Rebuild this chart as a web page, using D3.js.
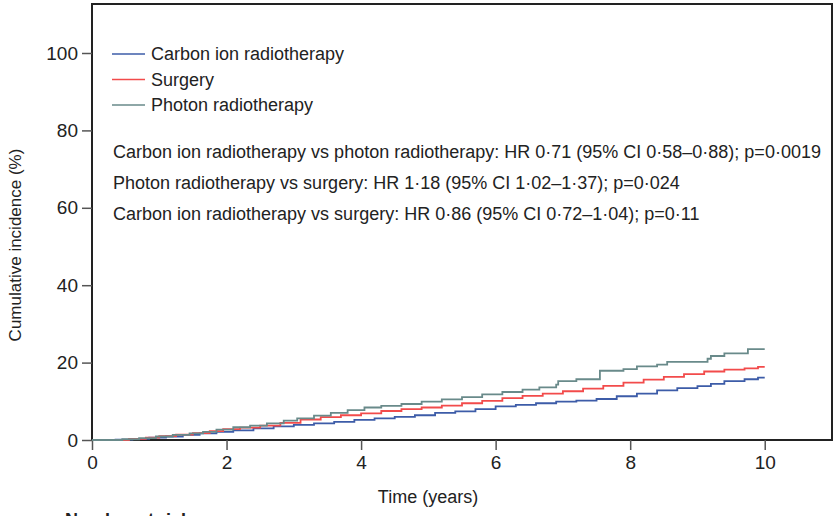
<!DOCTYPE html>
<html><head><meta charset="utf-8">
<script src="https://cdn.jsdelivr.net/npm/d3@7"></script>
<style>body{margin:0;background:#fff}svg{display:block}</style>
</head><body><svg id="c" width="834" height="516"></svg>
<script>
const seriesNames = ["Carbon ion radiotherapy", "Surgery", "Photon radiotherapy"];
const seriesColors = ["#3d5ca8", "#f24b4b", "#698a8a"];
const xTicks = [0, 2, 4, 6, 8, 10];
const yTicks = [0, 20, 40, 60, 80, 100];
const statLines = [
  "Carbon ion radiotherapy vs photon radiotherapy: HR 0·71 (95% CI 0·58–0·88); p=0·0019",
  "Photon radiotherapy vs surgery: HR 1·18 (95% CI 1·02–1·37); p=0·024",
  "Carbon ion radiotherapy vs surgery: HR 0·86 (95% CI 0·72–1·04); p=0·11"
];
const carbonT = [0,0.35,0.6,0.85,1.1,1.35,1.6,1.85,2.1,2.4,2.7,3.0,3.3,3.6,3.9,4.2,4.5,4.8,5.1,5.4,5.7,6.0,6.3,6.6,6.9,7.2,7.5,7.8,8.1,8.4,8.7,9.0,9.2,9.4,9.7,9.9,10];
const carbonV = [0,0.1,0.3,0.6,0.9,1.3,1.7,2.1,2.5,3.0,3.5,3.9,4.3,4.7,5.2,5.6,6.0,6.4,7.0,7.4,8.0,8.7,9.1,9.5,9.9,10.2,10.6,11.3,12.0,12.8,13.4,13.9,14.5,15.2,15.7,16.1,16.1];
const surgeryT = [0,0.55,0.8,1.0,1.25,1.5,1.75,1.95,2.2,2.5,2.8,3.1,3.4,3.7,4.0,4.3,4.6,4.9,5.2,5.5,5.8,6.1,6.4,6.7,7.0,7.3,7.6,7.9,8.2,8.5,8.8,9.1,9.4,9.7,9.9,10];
const surgeryV = [0,0.3,0.6,1.0,1.4,1.8,2.3,2.8,3.2,3.7,4.4,5.3,5.9,6.4,6.9,7.5,8.0,8.4,8.9,9.5,10.1,10.8,11.4,12.0,12.6,13.3,14.0,14.8,15.6,16.3,17.0,17.7,18.2,18.5,18.9,18.9];
const photonT = [0,0.45,0.7,0.95,1.2,1.45,1.65,1.85,2.1,2.35,2.6,2.85,3.05,3.3,3.55,3.8,4.05,4.3,4.6,4.9,5.2,5.5,5.8,6.1,6.4,6.65,6.9,6.93,7.2,7.55,7.9,8.1,8.4,8.55,9.15,9.2,9.4,9.75,10];
const photonV = [0,0.2,0.5,0.9,1.3,1.7,2.1,2.7,3.3,3.7,4.3,5.0,5.6,6.3,7.0,7.7,8.4,8.8,9.3,9.9,10.5,11.1,11.8,12.4,13.0,13.6,14.3,15.2,15.7,17.9,18.3,19.0,19.5,20.2,21.0,21.7,22.4,23.5,23.5];

const svg = d3.select("#c");
const x = d3.scaleLinear().domain([0, 11]).range([92, 832]);
const y = d3.scaleLinear().domain([0, 100]).range([440, 53]);
const font = "'Liberation Sans Narrow', 'Liberation Sans', sans-serif";

// box
svg.append("rect").attr("x", 92).attr("y", 4).attr("width", 740).attr("height", 436)
  .attr("fill", "none").attr("stroke", "#222").attr("stroke-width", 2);

// axes
const yAxis = svg.append("g").attr("transform", "translate(92,0)")
  .call(d3.axisLeft(y).tickValues(yTicks).tickSize(10).tickPadding(4));
const xAxis = svg.append("g").attr("transform", "translate(0,440)")
  .call(d3.axisBottom(x).tickValues(xTicks).tickSize(10).tickPadding(6));
[yAxis, xAxis].forEach(a => {
  a.select(".domain").remove();
  a.selectAll("line").attr("stroke", "#555").attr("stroke-width", 1.5);
  a.selectAll("text").attr("font-family", font).attr("font-size", 19).attr("fill", "#222");
});

// curves
const sets = [[carbonT, carbonV], [surgeryT, surgeryV], [photonT, photonV]];
const line = d3.line().x(d => x(d[0])).y(d => y(d[1])).curve(d3.curveStepAfter);
sets.forEach((s, i) => {
  const pts = s[0].map((t, j) => [t, s[1][j]]);
  svg.append("path").datum(pts).attr("d", line).attr("fill", "none")
    .attr("stroke", seriesColors[i]).attr("stroke-width", 1.8);
});

// legend
seriesNames.forEach((n, i) => {
  const ly = 54 + i * 25.5;
  svg.append("line").attr("x1", 112).attr("x2", 145).attr("y1", ly).attr("y2", ly)
    .attr("stroke", seriesColors[i]).attr("stroke-width", 1.5);
  svg.append("text").attr("x", 151).attr("y", ly + 6).text(n)
    .attr("font-family", font).attr("font-size", 18).attr("fill", "#222");
});

// stats
statLines.forEach((s, i) => {
  svg.append("text").attr("x", 113).attr("y", 158 + i * 31).text(s)
    .attr("font-family", font).attr("font-size", 18).attr("fill", "#222");
});

// axis labels
svg.append("text").attr("transform", "translate(21,245) rotate(-90)")
  .attr("text-anchor", "middle").text("Cumulative incidence (%)")
  .attr("font-family", font).attr("font-size", 17).attr("fill", "#222");
svg.append("text").attr("x", 428).attr("y", 503).attr("text-anchor", "middle")
  .text("Time (years)").attr("font-family", font).attr("font-size", 18).attr("fill", "#222");
svg.append("text").attr("x", 65).attr("y", 526).text("Number at risk")
  .attr("font-family", font).attr("font-size", 18).attr("font-weight", "bold").attr("fill", "#222");
</script></body></html>
